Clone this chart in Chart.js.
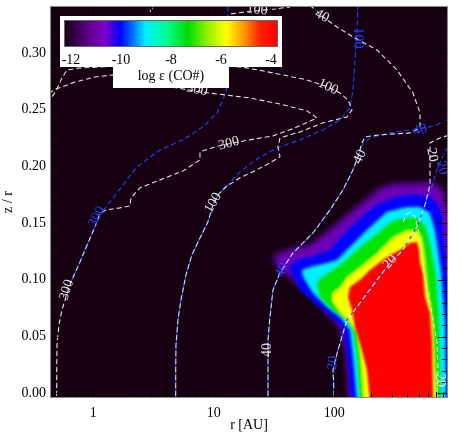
<!DOCTYPE html>
<html><head><meta charset="utf-8">
<script src="https://cdn.jsdelivr.net/npm/chart.js@4/dist/chart.umd.min.js"></script>
<style>
html,body{margin:0;padding:0;background:#fff;}
#wrap{position:relative;width:463px;height:437px;}
#c{position:absolute;left:0;top:0;}
#cb{position:absolute;left:60px;top:16px;width:222px;height:51px;background:#fff;}
#cbtab{position:absolute;left:113px;top:66px;width:116px;height:22px;background:#fff;}
#cbbar{position:absolute;left:64px;top:20px;width:214px;height:27px;border:1px solid #666;box-sizing:border-box;
background:linear-gradient(to right,#160012 0%,#3c0058 6%,#6a009c 13%,#7d00c8 19%,#0000ff 26%,#0070ff 32%,#00f0ff 38%,#00ff90 48%,#00dc00 58%,#90f000 67%,#ffff00 76%,#ff9000 85%,#ff2000 92%,#ff0000 100%);}
.cbt{position:absolute;top:51px;font:14px "Liberation Serif";color:#000;transform:translateX(-50%);white-space:nowrap;line-height:17px;}
#cblab{position:absolute;left:171px;top:67px;transform:translateX(-50%);font:14px "Liberation Serif";color:#000;white-space:nowrap;line-height:17px;}
</style></head>
<body>
<div id="wrap">
<canvas id="c" width="463" height="437"></canvas>
<div id="cb"></div><div id="cbtab"></div><div id="cbbar"></div>
<div id="cblab">log ε (CO#)</div>
</div>
<script>
// ---- axes ----
const xTicks = [1, 10, 100];
const xTickLabels = ['1', '10', '100'];
const yTicks = [0, 0.05, 0.10, 0.15, 0.20, 0.25, 0.30];
const yTickLabels = ['0.00', '0.05', '0.10', '0.15', '0.20', '0.25', '0.30'];
const cbTicks = [-12, -10, -8, -6, -4];

// ---- CO abundance bands (log eps levels, outer to inner) : [r AU, z/r] ----
const bandPurple = [[132,-0.006],[130,0.0117],[125,0.038],[118,0.047],[111.4,0.0584],[87,0.0708],[66.5,0.0849],[45.4,0.0999],[33.4,0.1114],[31,0.1202],[35.4,0.1246],[49,0.1281],[62.8,0.1308],[87,0.1422],[127.4,0.1572],[197.7,0.1732],[239.3,0.1811],[306.8,0.1846],[659,0.1855],[798,0.1793],[861,0.1643],[1104,0.1528],[1104,-0.006]];
const bandBlue = [[137.5,-0.006],[127.4,0.0355],[118,0.0576],[92.1,0.0690],[71.8,0.0778],[51.9,0.0911],[45.4,0.1035],[42.1,0.1114],[49,0.1175],[66.5,0.1211],[92.1,0.1263],[107.3,0.1352],[148.4,0.1502],[217.5,0.1652],[306.8,0.1723],[424.6,0.1749],[587.6,0.1740],[711,0.1687],[783,0.1572],[829,0.1263],[861,0.0999],[1104,0.0822],[1104,-0.006]];
const bandCyan = [[154,-0.006],[142.8,0.032],[134.9,0.0558],[111.4,0.0673],[87,0.0761],[66.5,0.0884],[55,0.1026],[53.9,0.1087],[62.8,0.1114],[87,0.1149],[105.2,0.1175],[134.9,0.1290],[186.7,0.1440],[273.6,0.1599],[401,0.1643],[514,0.1643],[622,0.1590],[685,0.1440],[768,0.1087],[829,0.0646],[845,-0.006]];
const bandGreen = [[163.3,-0.006],[154.2,0.032],[142.8,0.0558],[127.4,0.0646],[97.5,0.0734],[76,0.0849],[71.8,0.0972],[80.6,0.1026],[97.5,0.1087],[118,0.1149],[154.2,0.1263],[209.4,0.1378],[306.8,0.1520],[401,0.1546],[485,0.1546],[565.6,0.1480],[622,0.1325],[698,0.1026],[739,0.0646],[768,-0.006]];
const bandYellow = [[172.9,-0.006],[163.3,0.032],[154.2,0.0532],[134.9,0.062],[111.4,0.0708],[97.5,0.0796],[95.7,0.0884],[111.4,0.0937],[127.4,0.1026],[163.3,0.1114],[226,0.1237],[306.8,0.1378],[401,0.1440],[485,0.1440],[534,0.1378],[565.6,0.1202],[599,0.0937],[659,0.0646],[711,-0.006]];
const bandRed = [[197.7,-0.006],[186.7,0.0206],[163.3,0.0444],[148.4,0.0584],[140.2,0.0734],[129.9,0.0849],[134.9,0.0937],[163.3,0.0999],[197.7,0.1087],[273.6,0.1202],[350.8,0.1263],[424.6,0.1325],[485.4,0.1334],[504.3,0.1263],[514,0.1149],[544.4,0.1061],[565.6,0.0849],[622,0.0708],[646.6,0.0444],[659,-0.006]];

// ---- white temperature contours (K) ----
const w300 = [[0.497,-0.006],[0.497,0.0206],[0.50,0.0426],[0.519,0.0602],[0.55,0.0734],[0.593,0.0849],[0.653,0.0981],[0.776,0.1158],[0.904,0.1325],[1.033,0.1467],[1.137,0.1581],[1.275,0.1617],[1.665,0.1634],[2.016,0.1652],[2.055,0.1723],[2.441,0.1811],[3.577,0.1881],[5.551,0.1960],[7.681,0.2057],[7.681,0.2128],[10.23,0.2172],[13.11,0.2198],[19.96,0.2234],[30.98,0.2269],[47.2,0.2339],[71.8,0.2427],[59.3,0.2489],[35.4,0.2550],[19.96,0.2603],[12.38,0.2630],[7.68,0.2656],[3.577,0.2718],[1.457,0.2806],[1.033,0.2788],[0.705,0.2744],[0.55,0.2700],[0.49,0.2683],[0.446,0.2656]];
const w100 = [[4.83,-0.006],[4.83,0.0206],[4.857,0.0426],[5.045,0.0646],[5.343,0.0822],[5.878,0.1043],[6.592,0.1220],[7.681,0.1369],[8.95,0.1511],[9.845,0.1661],[10.83,0.1749],[12.62,0.1820],[16.49,0.1899],[21.14,0.1952],[29.26,0.2031],[35.41,0.2084],[34.08,0.2172],[35.41,0.2251],[51.9,0.2304],[80.56,0.2384],[127.4,0.2436],[140.2,0.2498],[129.9,0.2586],[111.4,0.2647],[88.6,0.2700],[59.3,0.2762],[30.98,0.2824],[18.85,0.2868],[13.63,0.2885],[7.68,0.2894],[2.954,0.2894],[1.457,0.2885],[1.137,0.2876],[0.776,0.2868],[0.605,0.2850],[0.55,0.2779],[0.50,0.2683],[0.4545,0.2612]];
const w100top = [[13.9,0.3344],[18.1,0.3361],[32.2,0.3388],[42.9,0.3405]];
const w300corner = [[2.954,0.3361],[3.13,0.3405]];
const w40 = [[28.16,-0.006],[28.16,0.0206],[28.16,0.047],[29.26,0.0673],[30.98,0.0911],[35.41,0.1061],[45.4,0.1237],[66.54,0.1413],[92.1,0.1617],[118,0.1793],[142.8,0.1969],[157.2,0.2084],[169.7,0.2207],[179.7,0.2260],[239.3,0.2278],[424.6,0.2295],[514,0.2339],[514,0.2471],[449.7,0.2647],[331.3,0.2850],[226,0.3026],[142.8,0.3141],[105.2,0.3229],[80.56,0.3317],[65.28,0.3405],[57.1,0.3467]];
const w20 = [[100,-0.006],[97.5,0.0206],[107.3,0.0382],[127.4,0.0646],[163.3,0.0796],[226,0.0999],[289.7,0.1149],[371.5,0.1263],[485.4,0.1467],[565.6,0.1661],[622,0.1837],[622,0.2057],[622,0.2207],[753,0.2251],[861,0.2269],[1104,0.2290]];
const w20cap = [[711,-0.006],[725,0.0206],[711,0.0444],[622,0.0796],[544.4,0.1087],[514,0.1378],[467,0.1555],[424.6,0.1598],[394,0.1572],[364.5,0.1484]];

// ---- blue contours (K) ----
const b300 = [[0.593,0.0911],[0.653,0.0981],[0.776,0.1158],[0.904,0.1325],[1.033,0.1467],[1.137,0.1581],[1.275,0.1643],[1.573,0.1767],[2.305,0.1996],[3.577,0.2145],[5.551,0.2234],[8.134,0.2348],[10.63,0.2471],[11.92,0.2586],[12.86,0.2691],[13.11,0.2938],[13.11,0.3423]];
const b100 = [[4.83,-0.006],[4.83,0.0206],[4.857,0.0426],[5.045,0.0646],[5.343,0.0822],[5.878,0.1043],[6.592,0.1220],[7.681,0.1369],[8.95,0.1511],[9.845,0.1661],[10.83,0.1749],[12.62,0.1820],[16.49,0.1952],[24.16,0.2084],[35.41,0.2172],[51.9,0.2234],[80.56,0.2322],[111.4,0.2410],[134.9,0.2515],[142.8,0.2674],[148.4,0.2938],[154.2,0.3203],[157.2,0.3423]];
const b40 = [[28.16,-0.006],[28.16,0.0206],[28.16,0.047],[29.26,0.0673],[30.98,0.0911],[35.41,0.1061],[45.4,0.1237],[66.54,0.1413],[92.1,0.1617],[118,0.1793],[142.8,0.1969],[157.2,0.2084],[169.7,0.2189],[197.7,0.2251],[289.7,0.2295],[424.6,0.2322],[622,0.2348],[861,0.2401],[1104,0.2427]];
const b20 = [[100,-0.006],[97.5,0.0206],[107.3,0.0382],[127.4,0.0646],[163.3,0.0796],[226,0.0999],[289.7,0.1149],[371.5,0.1263],[485.4,0.1467],[565.6,0.1661],[659,0.1855],[711,0.1969],[768,0.2057],[861,0.2162],[1104,0.2234]];

// ---- contour labels ----
const labelText = ['300','300','300','300','100','100','100','100','40','40','40','40','40','20','20','20','20','20'];
const labelR    = [0.602,1.067,13.36,7.254,9.845,88.6,22.82,157.2,27.63,36.79,163.3,514,79,97.5,289.7,646.6,783,753];
const labelZ    = [0.0911,0.1557,0.2202,0.2674,0.1678,0.2700,0.3379,0.3132,0.0382,0.1087,0.2084,0.2322,0.3326,0.0267,0.1158,0.2101,0.1987,0.0117];
const labelAngle= [-72,-62,-15,12,-60,25,5,90,-90,-70,-65,-15,28,-85,-50,80,75,90];
const labelBlue = [0,1,0,0,0,0,0,1,0,1,0,1,0,1,0,0,1,0];

const BG = '#160012', WHITE = '#e4e4e4', BLUE = '#2244ff';
const pts = a => a.map(([x,y]) => ({x, y}));
const band = (a, color, order, blurPx) => ({data: pts(a), showLine: true, fill: 'shape', backgroundColor: color, borderWidth: 0, pointRadius: 0, order, blurPx});
const line = (a, color, order, off) => ({data: pts(a), showLine: true, fill: false, borderColor: color, borderWidth: 1.1, borderDash: [5,3], borderDashOffset: off||0, pointRadius: 0, tension: 0, order});

const datasets = [
  band(bandPurple, '#6c00b8', 26, 3),
  band(bandBlue, '#0000ff', 25, 1.5),
  band(bandCyan, '#00eeff', 24, 1.5),
  band(bandGreen, '#00e400', 23, 1.5),
  band(bandYellow, '#f4ff00', 22, 1.5),
  band(bandRed, '#ff0000', 21, 1.3),
  line(b300, BLUE, 12), line(b100, BLUE, 11), line(b40, BLUE, 10), line(b20, BLUE, 9),
  line(w300, WHITE, 8, 4), line(w100, WHITE, 7, 4), line(w40, WHITE, 6, 4), line(w20, WHITE, 5, 4),
  line(w20cap, WHITE, 4), line(w100top, WHITE, 3), line(w300corner, WHITE, 2)
];

const plotBg = {
  id: 'plotBg',
  beforeDatasetsDraw(chart) {
    const {ctx, chartArea: a} = chart;
    ctx.save(); ctx.fillStyle = BG; ctx.fillRect(a.left, a.top, a.right - a.left, a.bottom - a.top); ctx.restore();
  },
  beforeDatasetDraw(chart, args) {
    const ds = chart.data.datasets[args.index];
    if (ds.blurPx) { chart.ctx.save(); chart.ctx.filter = 'blur(' + ds.blurPx + 'px)'; }
  },
  afterDatasetDraw(chart, args) {
    if (chart.data.datasets[args.index].blurPx) chart.ctx.restore();
  }
};
// make sure the blur hook runs before the filler draws each band
const fillerPlugin = Chart.registry.getPlugin('filler');
Chart.unregister(fillerPlugin);
Chart.register(plotBg);
Chart.register(fillerPlugin);

const decor = {
  id: 'decor',
  afterDatasetsDraw(chart) {
    const {ctx, chartArea: a, scales: {x, y}} = chart;
    ctx.save();
    ctx.beginPath(); ctx.rect(a.left, a.top, a.right - a.left, a.bottom - a.top); ctx.clip();
    ctx.strokeStyle = '#000'; ctx.lineWidth = 1;
    for (let d = -1; d <= 2; d++) for (let m = 1; m <= 9; m++) {
      const v = m * Math.pow(10, d); if (v < x.min || v > x.max) continue;
      const px = Math.round(x.getPixelForValue(v)) + 0.5, L = m === 1 ? 9 : 5;
      ctx.beginPath(); ctx.moveTo(px, a.bottom); ctx.lineTo(px, a.bottom - L); ctx.moveTo(px, a.top); ctx.lineTo(px, a.top + L); ctx.stroke();
    }
    for (let i = 0; i <= 34; i++) {
      const v = i / 100, py = Math.round(y.getPixelForValue(v)) + 0.5, L = i % 5 === 0 ? 9 : 5;
      ctx.beginPath(); ctx.moveTo(a.left, py); ctx.lineTo(a.left + L, py); ctx.moveTo(a.right, py); ctx.lineTo(a.right - L, py); ctx.stroke();
    }
    ctx.font = '14px "Liberation Serif"'; ctx.textAlign = 'center'; ctx.textBaseline = 'middle';
    labelText.forEach((t, i) => {
      const px = x.getPixelForValue(labelR[i]), py = y.getPixelForValue(labelZ[i]);
      ctx.save(); ctx.translate(px, py); ctx.rotate(labelAngle[i] * Math.PI / 180);
      ctx.fillStyle = labelBlue[i] ? BLUE : WHITE; ctx.fillText(t, 0, 0); ctx.restore();
    });
    ctx.restore();
    ctx.save(); ctx.strokeStyle = '#8a8a8a'; ctx.lineWidth = 1;
    ctx.strokeRect(a.left - 0.5, a.top - 0.5, a.right - a.left + 1, a.bottom - a.top + 1); ctx.restore();
  }
};

const font = {family: '"Liberation Serif"', size: 14};
new Chart(document.getElementById('c'), {
  type: 'scatter',
  data: {datasets},
  options: {
    responsive: false, animation: false, devicePixelRatio: 1,
    layout: {padding: {top: 7, right: 16, left: 0, bottom: 0}},
    plugins: {legend: {display: false}, tooltip: {enabled: false}},
    scales: {
      x: {type: 'logarithmic', min: 0.446, max: 861,
        afterBuildTicks: s => { s.ticks = xTicks.map(v => ({value: v})); },
        afterFit: s => { s.height = 40; s.paddingLeft = 0; s.paddingRight = 0; },
        grid: {display: false, drawTicks: false}, border: {display: false},
        ticks: {color: '#000', font, padding: 8, maxRotation: 0, autoSkip: false, callback: (v, i) => xTickLabels[i]},
        title: {display: true, text: 'r [AU]', color: '#000', font, padding: {top: 0, bottom: 3}}},
      y: {type: 'linear', min: -0.0033, max: 0.3405,
        afterBuildTicks: s => { s.ticks = yTicks.map(v => ({value: v})); },
        afterFit: s => { s.width = 51; s.paddingTop = 0; s.paddingBottom = 0; },
        grid: {display: false, drawTicks: false}, border: {display: false},
        ticks: {color: '#000', font, padding: 5, autoSkip: false, callback: (v, i) => yTickLabels[i]},
        title: {display: true, text: 'z / r', color: '#000', font, padding: {top: 0, bottom: 0}}}
    }
  },
  plugins: [decor]
});

const wrap = document.getElementById('wrap');
cbTicks.forEach(v => {
  const d = document.createElement('div'); d.className = 'cbt';
  d.style.left = (71 + (v + 12) * 25) + 'px'; d.textContent = String(v); wrap.appendChild(d);
});
</script>
</body></html>
